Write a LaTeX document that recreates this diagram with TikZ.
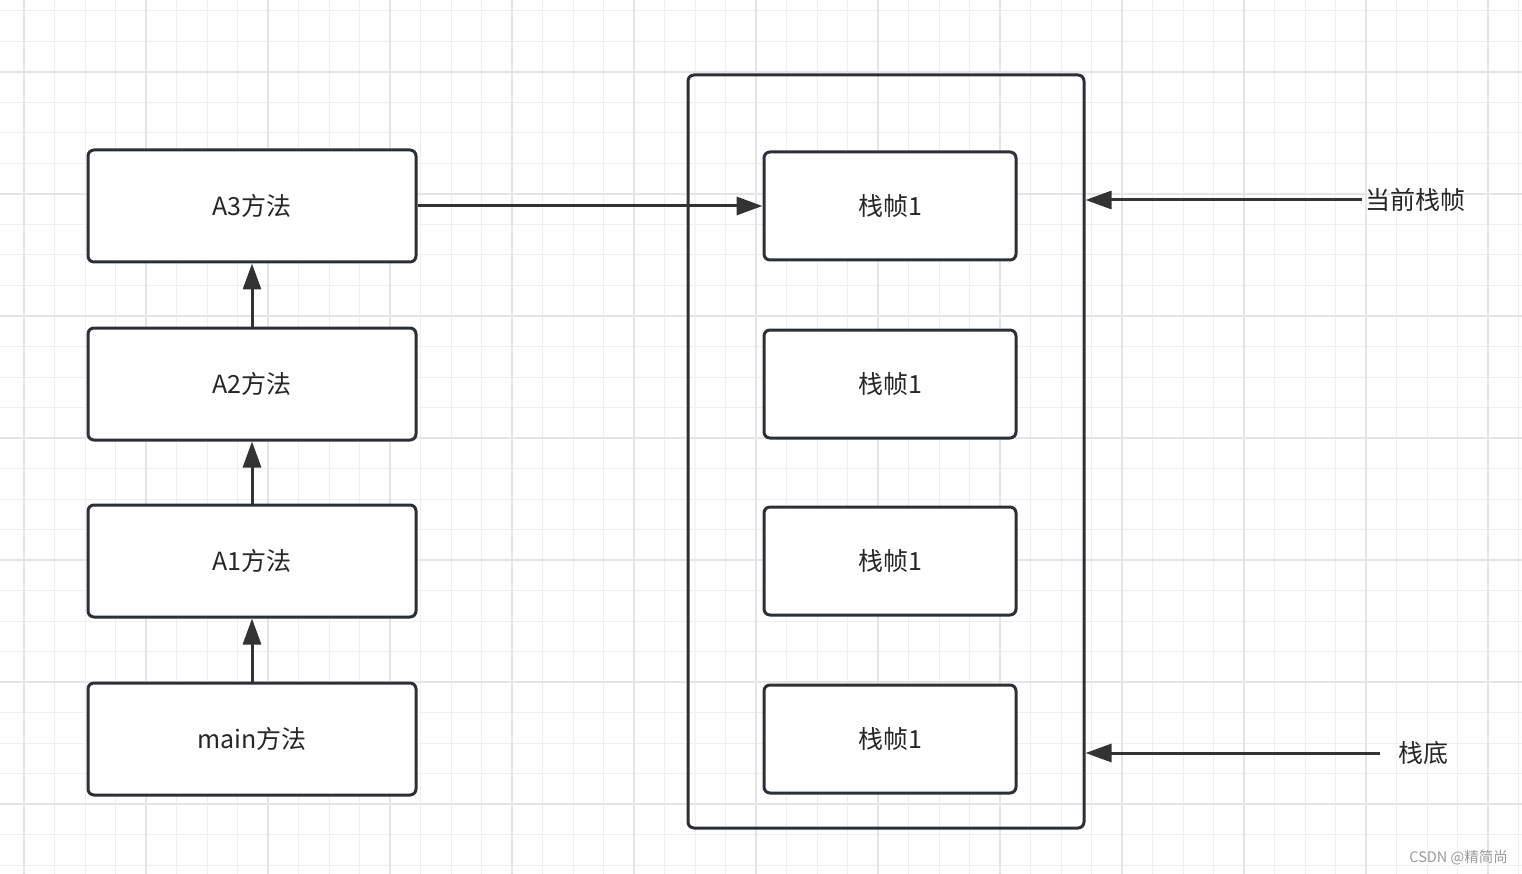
\documentclass[tikz,border=0pt]{standalone}
\usepackage{fontspec}
\setmainfont{Noto Sans CJK SC}
\usetikzlibrary{arrows.meta}
\definecolor{boxline}{HTML}{2B2F36}
\definecolor{arrline}{HTML}{333333}
\definecolor{gridminor}{HTML}{EFEFEF}
\definecolor{gridmajor}{HTML}{E5E5E5}
\definecolor{wm}{HTML}{9A9A9A}
\tikzset{
  minorline/.style={draw=gridminor, line width=1pt},
  majorline/.style={draw=gridmajor, line width=2pt},
  methodbox/.style={draw=boxline, line width=3pt, rounded corners=6pt, fill=white,
    minimum width=328pt, minimum height=112pt, inner sep=0pt,
    font=\fontsize{25}{29}\selectfont, text=black!85},
  framebox/.style={draw=boxline, line width=3pt, rounded corners=6pt, fill=white,
    minimum width=252pt, minimum height=108pt, inner sep=0pt,
    font=\fontsize{25}{29}\selectfont, text=black!85},
  container/.style={draw=boxline, line width=3pt, rounded corners=6pt,
    minimum width=396pt, minimum height=753pt, inner sep=0pt},
  arr/.style={draw=arrline, line width=3pt, -{Triangle[length=26pt,width=18pt]}},
  sidelabel/.style={font=\fontsize{25}{29}\selectfont, text=black!85, inner sep=0pt, anchor=west}
}
\begin{document}
\begin{tikzpicture}[x=1pt,y=-1pt]
\useasboundingbox (0,0) rectangle (1522,874);
\fill[white] (0,0) rectangle (1522,874);
% grid
\foreach \k in {-1,...,49} { \draw[minorline] ({24+30.5*\k},0) -- ({24+30.5*\k},874); }
\foreach \k in {-2,...,26} { \draw[minorline] (0,{72+30.5*\k}) -- (1522,{72+30.5*\k}); }
\foreach \k in {0,...,12} { \draw[majorline] ({24+122*\k},0) -- ({24+122*\k},874); }
\foreach \k in {0,...,6} { \draw[majorline] (0,{72+122*\k}) -- (1522,{72+122*\k}); }
% container
\node[container] (stack) at (886,451.5) {};
% left boxes
\node[methodbox] (a3) at (252,206) {A3方法};
\node[methodbox] (a2) at (252,384) {A2方法};
\node[methodbox] (a1) at (252,561) {A1方法};
\node[methodbox] (mn) at (252,739) {main方法};
% frames
\node[framebox] (f1) at (890,206) {栈帧1};
\node[framebox] (f2) at (890,384) {栈帧1};
\node[framebox] (f3) at (890,561) {栈帧1};
\node[framebox] (f4) at (890,739) {栈帧1};
% arrows
\draw[arr] (mn.north) -- (a1.south);
\draw[arr] (a1.north) -- (a2.south);
\draw[arr] (a2.north) -- (a3.south);
\draw[arr] (a3.east) -- (f1.west);
% side labels
\node[sidelabel] (cur) at (1365,200) {当前栈帧};
\node[sidelabel] (bot) at (1398,753) {栈底};
\coordinate (curend) at (1362,200);
\coordinate (botend) at (1380,753);
\draw[arr] (curend) -- (stack.east |- curend);
\draw[arr] (botend) -- (stack.east |- botend);
% watermark
\node[font=\fontsize{14.5}{16}\selectfont, text=wm, anchor=east, inner sep=0pt] (wmk) at (1508,858) {CSDN @精简尚};
\end{tikzpicture}
\end{document}
